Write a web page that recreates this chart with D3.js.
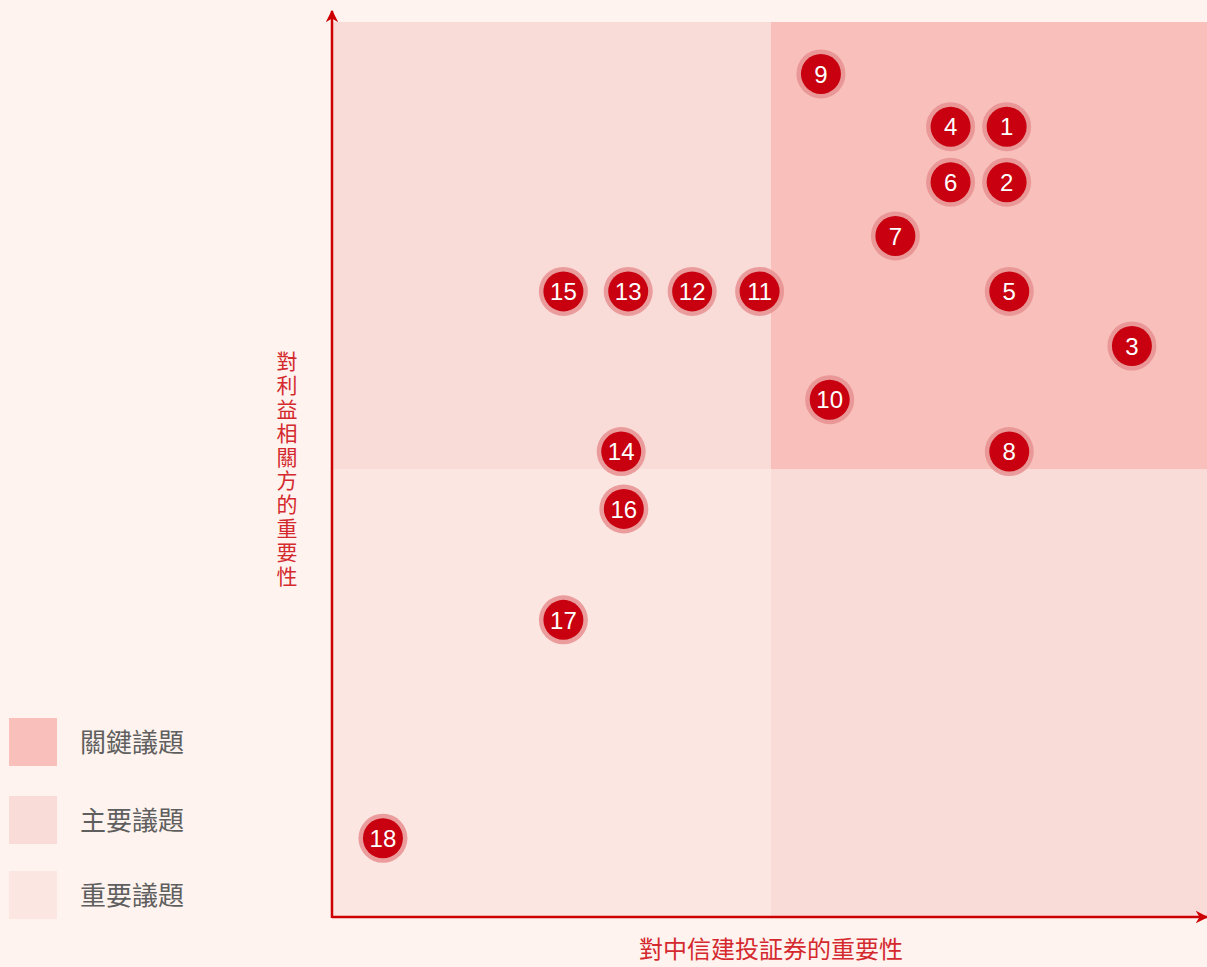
<!DOCTYPE html>
<html>
<head>
<meta charset="utf-8">
<script src="https://cdn.jsdelivr.net/npm/d3@7"></script>
<style>
  html, body { margin: 0; padding: 0; background: #fef3ee; }
  svg { display: block; }
</style>
</head>
<body>
<div id="chart"></div>
<script>
// issue ids and their position (importance to company, importance to stakeholders)
const issueIds = [1, 2, 3, 4, 5, 6, 7, 8, 9, 10, 11, 12, 13, 14, 15, 16, 17, 18];
const companyScore = [76.9, 76.9, 91.2, 70.5, 77.2, 70.5, 64.2, 77.2, 55.7, 56.7, 48.7, 41.0, 33.7, 32.9, 26.3, 33.2, 26.3, 5.7];
const stakeholderScore = [88.3, 82.1, 63.8, 88.3, 69.9, 82.1, 76.1, 52.0, 94.2, 57.8, 69.9, 69.9, 69.9, 52.0, 69.9, 45.6, 33.2, 8.8];

const legendLabels = ['關鍵議題', '主要議題', '重要議題'];
const xTitle = '對中信建投証券的重要性';
const yTitle = '對利益相關方的重要性';

const width = 1207, height = 967;
const plot = { left: 333, right: 1209, top: 22, bottom: 917 };

const colors = {
    key: '#f8bfbb',
    main: '#f9dbd8',
    important: '#fce6e1',
    axis: '#cc0000',
    dot: '#c8000f',
    ring: '#e88f91'
};

const svg = d3.select('#chart')
    .append('svg')
    .attr('width', width)
    .attr('height', height);

const x = d3.scaleLinear().domain([0, 100]).range([plot.left, plot.right]);
const y = d3.scaleLinear().domain([0, 100]).range([plot.bottom, plot.top]);

// Quadrants
const quads = [
    { x0: 0, x1: 50, y0: 50, y1: 100, fill: colors.main },
    { x0: 50, x1: 100, y0: 50, y1: 100, fill: colors.key },
    { x0: 0, x1: 50, y0: 0, y1: 50, fill: colors.important },
    { x0: 50, x1: 100, y0: 0, y1: 50, fill: colors.main }
];

svg.append('g')
    .selectAll('rect')
    .data(quads)
    .join('rect')
    .attr('x', d => x(d.x0))
    .attr('y', d => y(d.y1))
    .attr('width', d => x(d.x1) - x(d.x0))
    .attr('height', d => y(d.y0) - y(d.y1))
    .attr('fill', d => d.fill);

// Arrow heads
const defs = svg.append('defs');
defs.append('marker')
    .attr('id', 'arrow')
    .attr('viewBox', '0 0 10 10')
    .attr('refX', 9)
    .attr('refY', 5)
    .attr('markerWidth', 5)
    .attr('markerHeight', 5)
    .attr('markerUnits', 'strokeWidth')
    .attr('orient', 'auto')
    .append('path')
    .attr('d', 'M0,0 L10,5 L0,10 L3,5 Z')
    .attr('fill', colors.axis);

// Axes
svg.append('line')
    .attr('x1', plot.left - 1)
    .attr('y1', plot.bottom)
    .attr('x2', width)
    .attr('y2', plot.bottom)
    .attr('stroke', colors.axis)
    .attr('stroke-width', 2.5)
    .attr('marker-end', 'url(#arrow)');

svg.append('line')
    .attr('x1', plot.left - 1)
    .attr('y1', plot.bottom + 1)
    .attr('x2', plot.left - 1)
    .attr('y2', 11)
    .attr('stroke', colors.axis)
    .attr('stroke-width', 2.5)
    .attr('marker-end', 'url(#arrow)');

// Axis titles
svg.append('text')
    .attr('x', 771)
    .attr('y', 958)
    .attr('text-anchor', 'middle')
    .attr('font-family', '"Noto Sans CJK TC", sans-serif')
    .attr('font-size', '24px')
    .attr('fill', '#d42a2f')
    .text(xTitle);

// vertical title, one text in vertical writing mode
svg.append('text')
    .attr('x', 287)
    .attr('y', 351)
    .attr('font-family', '"Noto Sans CJK TC", sans-serif')
    .attr('font-size', '21px')
    .attr('letter-spacing', '2.8px')
    .attr('fill', '#d42a2f')
    .style('writing-mode', 'vertical-rl')
    .style('text-orientation', 'upright')
    .text(yTitle);

// Points
const points = issueIds.map((id, i) => ({ id, cx: companyScore[i], cy: stakeholderScore[i] }));

const dots = svg.append('g')
    .selectAll('g')
    .data(points)
    .join('g')
    .attr('transform', d => `translate(${x(d.cx)},${y(d.cy)})`);

dots.append('circle')
    .attr('r', 24.5)
    .attr('fill', colors.ring)
    .attr('opacity', 0.85);

dots.append('circle')
    .attr('r', 20)
    .attr('fill', colors.dot);

dots.append('text')
    .attr('text-anchor', 'middle')
    .attr('dy', '0.36em')
    .attr('font-family', '"Liberation Sans", Arial, sans-serif')
    .attr('font-size', '24px')
    .attr('fill', '#fff')
    .text(d => d.id);

// Legend
const legendColors = [colors.key, colors.main, colors.important];
const legendY = [718, 796, 871];

legendLabels.forEach((label, i) => {
    svg.append('rect')
        .attr('x', 9)
        .attr('y', legendY[i])
        .attr('width', 48)
        .attr('height', 48)
        .attr('fill', legendColors[i]);

    svg.append('text')
        .attr('x', 80)
        .attr('y', legendY[i] + 34)
        .attr('font-family', '"Noto Sans CJK TC", sans-serif')
        .attr('font-size', '26px')
        .attr('fill', '#5f5f5f')
        .text(label);
});
</script>
</body>
</html>
